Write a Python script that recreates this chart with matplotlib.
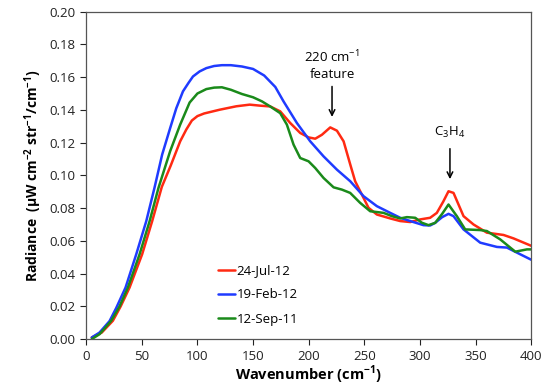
import numpy as np
import matplotlib
matplotlib.use("Agg")
import matplotlib.pyplot as plt

plt.rcParams["font.family"] = ["Open Sans", "DejaVu Sans"]
plt.rcParams["mathtext.fontset"] = "custom"
plt.rcParams["mathtext.rm"] = "Open Sans"
plt.rcParams["mathtext.bf"] = "Open Sans:bold"

# ====== DATA ======
jul12_x = [5, 14, 24, 31, 39, 50.3, 59.3, 68, 76, 84.5, 90, 95, 100, 106, 120, 135, 147, 156,
           165.4, 174.4, 183.4, 192.4, 199.9, 205.9, 211.9, 219.4, 225.4, 231.4, 237.4, 241.8,
           247.8, 253.8, 261.3, 273.3, 282.3, 291.3, 300.2, 309.2, 315.2, 321, 325.7, 330.2,
           339.2, 348.2, 360.2, 375.2, 384.2, 400]
jul12_y = [0.001, 0.004, 0.0112, 0.020, 0.0315, 0.0518, 0.072, 0.093, 0.106, 0.1208, 0.128,
           0.1335, 0.1362, 0.1378, 0.1401, 0.1422, 0.1432, 0.1426, 0.1421, 0.1391, 0.1320,
           0.1259, 0.1232, 0.1224, 0.1248, 0.1293, 0.1273, 0.1208, 0.1066, 0.0964, 0.0883,
           0.0802, 0.0761, 0.0737, 0.0721, 0.0715, 0.0731, 0.0741, 0.0771, 0.084, 0.0903,
           0.0893, 0.0751, 0.0700, 0.0650, 0.0636, 0.0615, 0.0570]

feb12_x = [5, 12, 21, 27, 35.4, 45, 54, 61.4, 68.3, 75.5, 81, 87, 92, 96, 102, 108, 115, 122,
           130, 140, 150, 160, 170, 177.4, 189.4, 201.4, 213.4, 225.4, 237.4, 249.3, 261.3,
           273.3, 282.3, 291.3, 303.2, 309.2, 313.7, 320, 325.7, 330.2, 339.2, 354.2, 369.2,
           378.2, 390.2, 400]
feb12_y = [0.001, 0.004, 0.011, 0.019, 0.0315, 0.0518, 0.072, 0.0924, 0.1127, 0.1289, 0.141,
           0.1513, 0.1565, 0.1604, 0.1635, 0.1655, 0.1668, 0.1673, 0.1673, 0.1665, 0.165,
           0.161, 0.154, 0.1452, 0.1320, 0.1208, 0.1116, 0.1035, 0.0964, 0.0873, 0.0812,
           0.0771, 0.0741, 0.0721, 0.0696, 0.0694, 0.0710, 0.0745, 0.0765, 0.0751, 0.0670,
           0.0589, 0.0563, 0.0559, 0.0518, 0.0485]

sep11_x = [5, 12, 22.5, 30, 37.5, 48, 57, 65, 75.5, 84.5, 93, 100, 108, 115, 122, 130, 140,
           150, 158, 165.4, 174.4, 180.4, 186.4, 192.4, 199.9, 205.9, 213.4, 222.4, 229.9,
           237.3, 246.3, 255.3, 267.3, 274.8, 282.3, 288.3, 295.8, 301.7, 307.7, 313.7, 320,
           325.7, 333.2, 340.7, 354.2, 360.2, 372.2, 385.7, 396.2, 400]
sep11_y = [0.0, 0.003, 0.0112, 0.020, 0.0315, 0.0518, 0.072, 0.0924, 0.1148, 0.131, 0.1445,
           0.150, 0.1527, 0.1536, 0.1538, 0.1523, 0.1497, 0.1477, 0.1452, 0.1421, 0.138,
           0.1310, 0.1188, 0.1106, 0.1086, 0.1045, 0.0984, 0.0927, 0.0913, 0.0893, 0.0832,
           0.0781, 0.0771, 0.0751, 0.0737, 0.0745, 0.0741, 0.0711, 0.0696, 0.0710, 0.0765,
           0.0822, 0.0751, 0.0670, 0.0666, 0.0660, 0.0609, 0.0534, 0.0548, 0.0548]

series = [
    ("24-Jul-12", jul12_x, jul12_y, "#ff2a12"),
    ("19-Feb-12", feb12_x, feb12_y, "#1f3bff"),
    ("12-Sep-11", sep11_x, sep11_y, "#1a8a1a"),
]


def main():
    fig = plt.figure(figsize=(5.42, 3.88), dpi=100)
    ax = fig.add_axes([0.159, 0.126, 0.821, 0.844])

    for label, xs, ys, color in series:
        ax.plot(xs, ys, color=color, linewidth=1.8, label=label,
                solid_joinstyle="round", solid_capstyle="round")

    ax.set_xlim(0, 400)
    ax.set_ylim(0, 0.20)
    ax.set_xticks(np.arange(0, 401, 50))
    ax.set_yticks(np.arange(0, 0.201, 0.02))
    ax.yaxis.set_major_formatter(matplotlib.ticker.FormatStrFormatter("%.2f"))
    ax.tick_params(direction="out", length=4, width=0.8, labelsize=9.5, colors="#222222")
    for sp in ax.spines.values():
        sp.set_color("#555555")
        sp.set_linewidth(0.9)

    ax.set_xlabel(r"Wavenumber (cm$^{\mathbf{-1}}$)", fontsize=10.5, fontweight="bold", labelpad=1)
    ax.set_ylabel(r"Radiance  ($\mathbf{\mu}$W cm$^{\mathbf{-2}}$ str$^{\mathbf{-1}}$/cm$^{\mathbf{-1}}$)",
                  fontsize=10, fontweight="bold", labelpad=4)

    # annotations
    ax.text(221, 0.172, r"220 cm$^{-1}$", ha="center", va="center", fontsize=9.5)
    ax.text(221, 0.1615, "feature", ha="center", va="center", fontsize=9.5)
    ax.annotate("", xy=(221, 0.134), xytext=(221, 0.156),
                arrowprops=dict(arrowstyle="->", color="black", lw=1.1))
    ax.text(327, 0.126, r"C$_3$H$_4$", ha="center", va="center", fontsize=9.5)
    ax.annotate("", xy=(327, 0.096), xytext=(327, 0.118),
                arrowprops=dict(arrowstyle="->", color="black", lw=1.1))

    ax.legend(loc="lower left", bbox_to_anchor=(0.27, 0.005), frameon=False,
              fontsize=9.5, handlelength=1.3, handletextpad=0.1, labelspacing=0.85)

    fig.savefig("out.png", dpi=100)


if __name__ == "__main__":
    main()
